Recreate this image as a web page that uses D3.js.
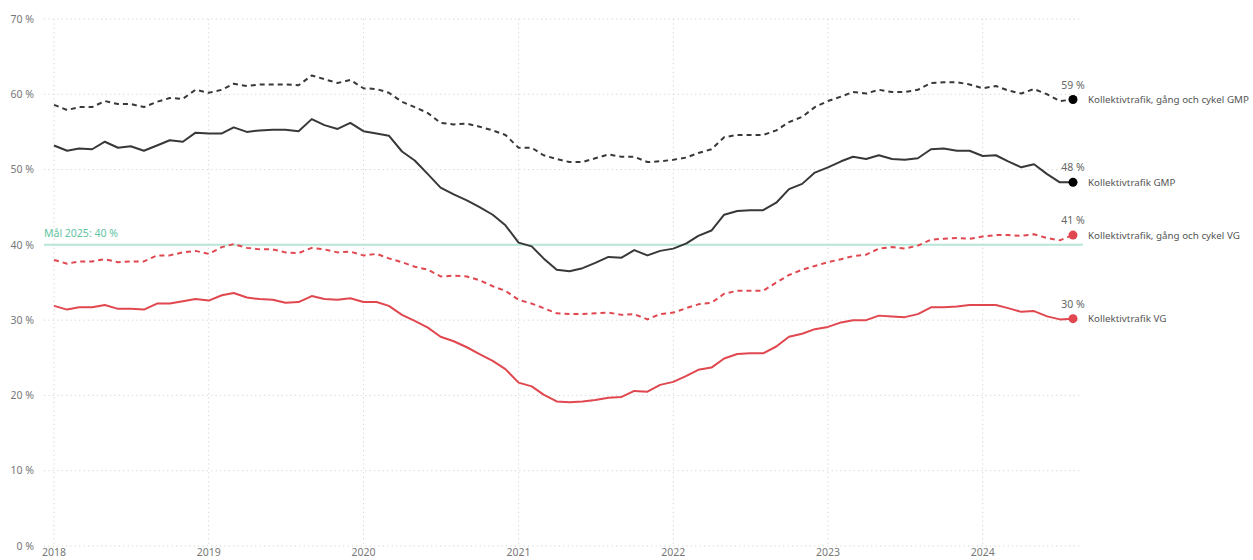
<!DOCTYPE html>
<html>
<head>
<meta charset="utf-8">
<script src="https://d3js.org/d3.v7.min.js"></script>
<style>
    body { margin: 0; background: #fff; }
    svg { display: block; font-family: "Noto Sans", "Open Sans", sans-serif; }
</style>
</head>
<body>
<script>
    // months Jan 2018 .. Aug 2024
    var startMonth = new Date(2018, 0, 1);
    var monthCount = 80;

    var gmpAll = [58.6, 57.9, 58.3, 58.3, 59.1, 58.7, 58.7, 58.3, 59.0, 59.5, 59.4, 60.6,
        60.2, 60.6, 61.4, 61.1, 61.3, 61.3, 61.3, 61.2, 62.5, 62.0, 61.5, 61.9,
        60.8, 60.7, 60.2, 59.0, 58.3, 57.5, 56.2, 56.0, 56.1, 55.7, 55.2, 54.6,
        52.9, 52.9, 51.9, 51.4, 51.0, 51.0, 51.5, 52.0, 51.7, 51.7, 51.0, 51.1,
        51.3, 51.6, 52.2, 52.7, 54.3, 54.6, 54.6, 54.6, 55.2, 56.3, 57.0, 58.3,
        59.1, 59.7, 60.3, 60.1, 60.6, 60.3, 60.3, 60.6, 61.5, 61.6, 61.6, 61.3,
        60.8, 61.1, 60.5, 60.1, 60.7, 60.0, 59.1, 59.3];

    var gmpTransit = [53.2, 52.5, 52.8, 52.7, 53.7, 52.9, 53.1, 52.5, 53.2, 53.9, 53.7, 54.9,
        54.8, 54.8, 55.6, 55.0, 55.2, 55.3, 55.3, 55.1, 56.7, 55.9, 55.4, 56.2,
        55.1, 54.8, 54.5, 52.4, 51.2, 49.4, 47.6, 46.7, 45.9, 45.0, 44.0, 42.6,
        40.3, 39.8, 38.2, 36.7, 36.5, 36.9, 37.6, 38.4, 38.3, 39.3, 38.6, 39.2,
        39.5, 40.2, 41.2, 41.9, 44.0, 44.5, 44.6, 44.6, 45.6, 47.4, 48.1, 49.6,
        50.3, 51.1, 51.7, 51.4, 51.9, 51.4, 51.3, 51.5, 52.7, 52.8, 52.5, 52.5,
        51.8, 51.9, 51.1, 50.3, 50.7, 49.4, 48.3, 48.3];

    var vgAll = [38.0, 37.5, 37.8, 37.8, 38.1, 37.7, 37.8, 37.8, 38.6, 38.6, 39.0, 39.2,
        38.8, 39.7, 40.1, 39.6, 39.4, 39.4, 39.0, 38.9, 39.6, 39.4, 39.0, 39.1,
        38.6, 38.8, 38.2, 37.7, 37.1, 36.7, 35.8, 35.9, 35.8, 35.3, 34.5, 33.9,
        32.7, 32.2, 31.6, 30.9, 30.8, 30.8, 30.9, 31.0, 30.7, 30.8, 30.1, 30.8,
        31.0, 31.6, 32.1, 32.3, 33.5, 33.9, 33.9, 33.9, 35.0, 36.0, 36.7, 37.2,
        37.7, 38.1, 38.5, 38.7, 39.5, 39.7, 39.5, 39.9, 40.7, 40.8, 40.9, 40.8,
        41.1, 41.3, 41.3, 41.2, 41.4, 40.9, 40.6, 41.3];

    var vgTransit = [31.9, 31.4, 31.7, 31.7, 32.0, 31.5, 31.5, 31.4, 32.2, 32.2, 32.5, 32.8,
        32.6, 33.3, 33.6, 33.0, 32.8, 32.7, 32.3, 32.4, 33.2, 32.8, 32.7, 32.9,
        32.4, 32.4, 31.9, 30.7, 29.9, 29.0, 27.8, 27.2, 26.4, 25.5, 24.6, 23.5,
        21.7, 21.2, 20.1, 19.2, 19.1, 19.2, 19.4, 19.7, 19.8, 20.6, 20.5, 21.4,
        21.8, 22.6, 23.4, 23.7, 24.9, 25.5, 25.6, 25.6, 26.5, 27.8, 28.2, 28.8,
        29.1, 29.7, 30.0, 30.0, 30.6, 30.5, 30.4, 30.8, 31.7, 31.7, 31.8, 32.0,
        32.0, 32.0, 31.6, 31.1, 31.2, 30.5, 30.1, 30.2];

    var seriesNames = ["Kollektivtrafik, gång och cykel GMP", "Kollektivtrafik GMP",
        "Kollektivtrafik, gång och cykel VG", "Kollektivtrafik VG"];
    var seriesValues = [gmpAll, gmpTransit, vgAll, vgTransit];
    var seriesDashed = [true, false, true, false];
    var seriesColors = ["#383838", "#383838", "#e0474f", "#e0474f"];
    var dotColors = ["#000000", "#000000", "#e0474f", "#e0474f"];

    var yTicks = [0, 10, 20, 30, 40, 50, 60, 70];
    var goalValue = 40;
    var goalLabel = "Mål 2025: 40 %";

    var months = d3.range(monthCount).map(function(i) {
        return new Date(2018, i, 1);
    });

    var W = 1253, H = 560;
    var svg = d3.select("body").append("svg")
        .attr("width", W)
        .attr("height", H);

    var x = d3.scaleTime()
        .domain([startMonth, months[monthCount - 1]])
        .range([54, 1073]);
    var y = d3.scaleLinear()
        .domain([0, 70])
        .range([546, 19]);

    var gridColor = "#d4d4d4";

    // horizontal grid + y labels
    var yAxis = svg.append("g");
    yAxis.selectAll("line")
        .data(yTicks)
        .enter().append("line")
        .attr("x1", 44).attr("x2", 1080)
        .attr("y1", function(d) { return y(d); })
        .attr("y2", function(d) { return y(d); })
        .attr("stroke", gridColor)
        .attr("stroke-width", 1)
        .attr("stroke-dasharray", "1.2,3.2");
    yAxis.selectAll("text")
        .data(yTicks)
        .enter().append("text")
        .attr("x", 34)
        .attr("y", function(d) { return y(d); })
        .attr("dy", "0.35em")
        .attr("text-anchor", "end")
        .attr("font-size", 10.5)
        .attr("fill", "#777")
        .text(function(d) { return d + " %"; });

    // vertical grid + year labels
    var years = x.ticks(d3.timeYear.every(1));
    var xAxis = svg.append("g");
    xAxis.selectAll("line")
        .data(years)
        .enter().append("line")
        .attr("x1", function(d) { return x(d); })
        .attr("x2", function(d) { return x(d); })
        .attr("y1", 19).attr("y2", 546)
        .attr("stroke", gridColor)
        .attr("stroke-width", 1)
        .attr("stroke-dasharray", "1.2,3.2");
    xAxis.selectAll("text")
        .data(years)
        .enter().append("text")
        .attr("x", function(d) { return x(d); })
        .attr("y", 556)
        .attr("text-anchor", "middle")
        .attr("font-size", 10.5)
        .attr("fill", "#777")
        .text(d3.timeFormat("%Y"));

    // goal line
    svg.append("line")
        .attr("x1", 44).attr("x2", 1083)
        .attr("y1", y(goalValue)).attr("y2", y(goalValue))
        .attr("stroke", "#b9e6d6")
        .attr("stroke-width", 2);
    svg.append("text")
        .attr("x", 44)
        .attr("y", y(goalValue) - 8)
        .attr("font-size", 10.5)
        .attr("fill", "#62c4a2")
        .text(goalLabel);

    // lines
    var line = d3.line()
        .x(function(d, i) { return x(months[i]); })
        .y(function(d) { return y(d); });

    seriesValues.forEach(function(vals, s) {
        svg.append("path")
            .attr("d", line(vals))
            .attr("fill", "none")
            .attr("stroke", seriesColors[s])
            .attr("stroke-width", 2)
            .attr("stroke-linejoin", "round")
            .attr("stroke-dasharray", seriesDashed[s] ? "5,4" : null);

        var last = vals[vals.length - 1];
        var lx = x(months[vals.length - 1]);
        var ly = y(last);
        svg.append("circle")
            .attr("cx", lx).attr("cy", ly)
            .attr("r", 4.5)
            .attr("fill", dotColors[s]);
        svg.append("text")
            .attr("x", lx)
            .attr("y", ly - 11)
            .attr("text-anchor", "middle")
            .attr("font-size", 10.5)
            .attr("fill", "#666")
            .text(Math.round(last) + " %");
        svg.append("text")
            .attr("x", lx + 15)
            .attr("y", ly)
            .attr("dy", "0.35em")
            .attr("font-size", 9.8)
            .attr("fill", "#555")
            .text(seriesNames[s]);
    });
</script>
</body>
</html>
